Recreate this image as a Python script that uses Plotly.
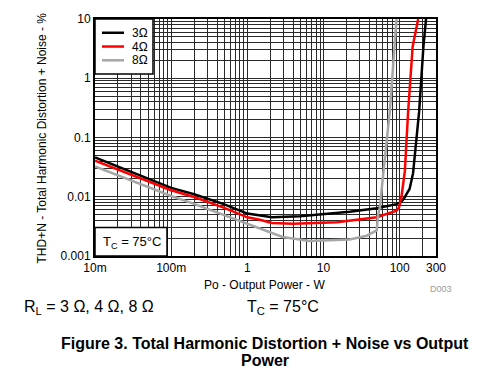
import plotly.graph_objects as go

# ---- data ----
p_3ohm = [0.01, 0.1, 0.2, 0.48, 1.0, 2.1, 4.9, 22, 50, 91, 105, 115, 125, 135, 150, 180, 205, 222]
thd_3ohm = [0.046, 0.0141, 0.011, 0.0076, 0.0052, 0.0045, 0.0047, 0.0056, 0.0064, 0.0075, 0.0082, 0.0095, 0.0115, 0.0135, 0.025, 0.27, 3.4, 10]

p_4ohm = [0.01, 0.1, 0.2, 0.48, 1.0, 1.46, 2.1, 4.0, 15, 50, 91, 98, 105, 117, 129, 148, 175]
thd_4ohm = [0.0407, 0.0129, 0.0099, 0.0066, 0.0045, 0.0041, 0.0036, 0.0035, 0.0037, 0.0045, 0.0058, 0.0066, 0.0095, 0.027, 0.265, 3.4, 10]

p_8ohm = [0.01, 0.1, 0.2, 0.48, 1.0, 1.46, 2.9, 6.6, 22, 37, 50, 52, 55, 60, 74, 91]
thd_8ohm = [0.0324, 0.0103, 0.0076, 0.0050, 0.0035, 0.0030, 0.0021, 0.0018, 0.0019, 0.0022, 0.0027, 0.0050, 0.0066, 0.0205, 0.265, 10]

series_names = ["3Ω", "4Ω", "8Ω"]
series_colors = ["#000000", "#ff0000", "#a6a6a6"]

x_tick_values = [0.01, 0.1, 1, 10, 100, 300]
x_tick_labels = ["10m", "100m", "1", "10", "100", "300"]
y_tick_values = [0.001, 0.01, 0.1, 1, 10]
y_tick_labels = ["0.001", "0.01", "0.1", "1", "10"]

FONT = "Liberation Sans, Arial, sans-serif"

# plot-area pixel geometry
L, R, T, B = 95, 436, 15, 256
W, H = R - L, B - T


def px(x):
    return (x - L) / W


def py(y):
    return (B - y) / H


def grid_positions(lo_exp, hi_val):
    vals = []
    e = lo_exp
    while True:
        for m in range(1, 10):
            v = round(m * 10 ** e, 10)
            if v > hi_val * 1.0001:
                return vals
            vals.append(v)
        e += 1


xgrid = grid_positions(-2, 300)
ygrid = grid_positions(-3, 10)

fig = go.Figure()
for xs, ys, name, col in zip([p_3ohm, p_4ohm, p_8ohm], [thd_3ohm, thd_4ohm, thd_8ohm],
                             series_names, series_colors):
    fig.add_trace(go.Scatter(x=xs, y=ys, mode="lines", name=name,
                             line=dict(color=col, width=2.5), showlegend=False))

GRID = "#2a2a2a"
axis_common = dict(type="log", showgrid=True, gridcolor=GRID, gridwidth=1,
                   showline=True, linecolor="black", linewidth=2, mirror=True,
                   ticks="", zeroline=False, tickmode="array",
                   tickfont=dict(family=FONT, size=12, color="black"))

fig.update_xaxes(range=[-2, 2.4771], tickvals=x_tick_values, ticktext=x_tick_labels,
                 minor=dict(tickmode="array", tickvals=xgrid, showgrid=True,
                            gridcolor=GRID, gridwidth=1, ticks=""),
                 **axis_common)
fig.update_yaxes(range=[-3, 1], tickvals=y_tick_values, ticktext=y_tick_labels,
                 minor=dict(tickmode="array", tickvals=ygrid, showgrid=True,
                            gridcolor=GRID, gridwidth=1, ticks=""),
                 **axis_common)

shapes = [
    # legend box
    dict(type="rect", xref="paper", yref="paper", x0=0, x1=px(153), y0=py(71), y1=1,
         fillcolor="white", line=dict(color="black", width=1.5), layer="above"),
    # Tc box
    dict(type="rect", xref="paper", yref="paper", x0=0, x1=px(167), y0=0, y1=py(227),
         fillcolor="white", line=dict(color="black", width=1.5), layer="above"),
]
annotations = []
for i, (name, col) in enumerate(zip(series_names, series_colors)):
    yy = py(29 + 14 * i)
    shapes.append(dict(type="line", xref="paper", yref="paper", x0=px(102), x1=px(124),
                       y0=yy, y1=yy, line=dict(color=col, width=2.5), layer="above"))
    annotations.append(dict(xref="paper", yref="paper", x=px(130), y=yy, text=name,
                            showarrow=False, xanchor="left", yanchor="middle",
                            font=dict(family=FONT, size=12, color="black")))

annotations += [
    dict(xref="paper", yref="paper", x=px(101), y=py(242), text="T<sub>C</sub> = 75°C",
         showarrow=False, xanchor="left", yanchor="middle",
         font=dict(family=FONT, size=13, color="black")),
    dict(xref="paper", yref="paper", x=px(264), y=py(285), text="Po - Output Power - W",
         showarrow=False, xanchor="center", yanchor="middle",
         font=dict(family=FONT, size=12, color="black")),
    dict(xref="paper", yref="paper", x=px(42), y=py(136.5),
         text="THD+N - Total Harmonic Distortion + Noise - %", textangle=-90,
         showarrow=False, xanchor="center", yanchor="middle",
         font=dict(family=FONT, size=12, color="black")),
    dict(xref="paper", yref="paper", x=px(454), y=py(290), text="D003",
         showarrow=False, xanchor="right", yanchor="middle",
         font=dict(family=FONT, size=9, color="#9a9a9a")),
    dict(xref="paper", yref="paper", x=px(22), y=py(308), text="R<sub>L</sub> = 3 Ω, 4 Ω, 8 Ω",
         showarrow=False, xanchor="left", yanchor="middle",
         font=dict(family=FONT, size=16, color="black")),
    dict(xref="paper", yref="paper", x=px(245), y=py(308), text="T<sub>C</sub> = 75°C",
         showarrow=False, xanchor="left", yanchor="middle",
         font=dict(family=FONT, size=16, color="black")),
    dict(xref="paper", yref="paper", x=px(264.5), y=py(344.5),
         text="<b>Figure 3. Total Harmonic Distortion + Noise vs Output</b>",
         showarrow=False, xanchor="center", yanchor="middle",
         font=dict(family=FONT, size=16, color="black")),
    dict(xref="paper", yref="paper", x=px(264.5), y=py(362.5), text="<b>Power</b>",
         showarrow=False, xanchor="center", yanchor="middle",
         font=dict(family=FONT, size=16, color="black")),
]

fig.update_layout(
    width=480, height=373,
    margin=dict(l=L, r=480 - R, t=T, b=373 - B, pad=0),
    paper_bgcolor="white", plot_bgcolor="white",
    showlegend=False,
    shapes=shapes, annotations=annotations,
    font=dict(family=FONT, size=12, color="black"),
)

fig.write_html("out.html", config={"displayModeBar": False},
               post_script="document.body.style.margin='0';document.body.style.padding='0';")
